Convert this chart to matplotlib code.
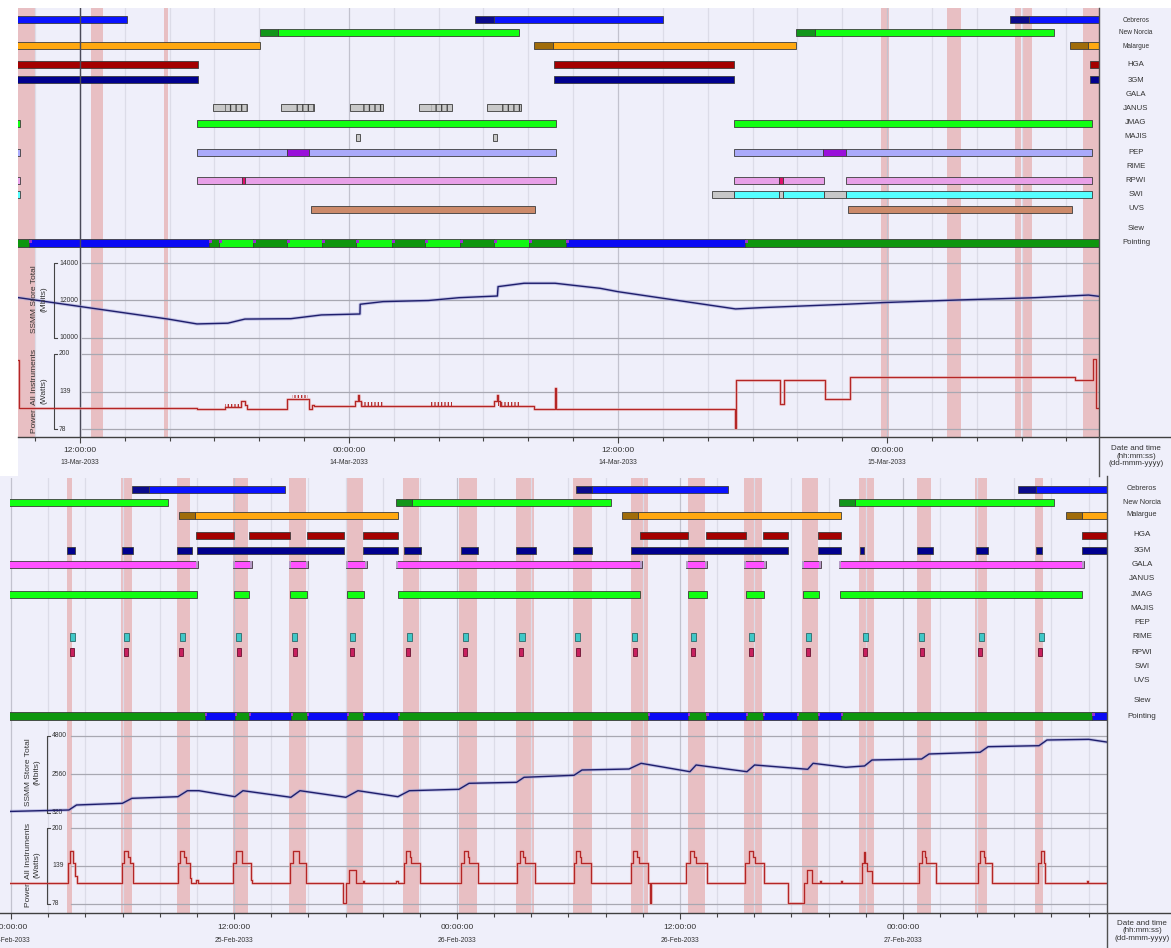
import matplotlib
matplotlib.use("Agg")
import matplotlib.pyplot as plt
from matplotlib.patches import Rectangle
from matplotlib.lines import Line2D

# ============================ DATA ============================
row_labels = ["Cebreros", "New Norcia", "Malargue", "HGA", "3GM", "GALA", "JANUS",
              "JMAG", "MAJIS", "PEP", "RIME", "RPWI", "SWI", "UVS", "Slew", "Pointing"]
station_rows = ["Cebreros", "New Norcia", "Malargue"]

# ---- top panel: hours relative to 14-Mar-2033 00:00:00 ----
top_major_hours = [-12, 0, 12, 24]
top_major_times = ["12:00:00", "00:00:00", "12:00:00", "00:00:00"]
top_major_dates = ["13-Mar-2033", "14-Mar-2033", "14-Mar-2033", "15-Mar-2033"]
top_bands = [(-15.0, -14.0), (-11.51, -10.97), (-8.25, -8.07), (23.73, 24.09),
             (26.67, 27.30), (29.71, 29.98), (30.06, 30.46), (32.74, 33.6)]
top_cursor = -12.0
top_segments = {
    "Cebreros": [(-15.0, -9.90, "blue"), (5.62, 6.47, "dblue"), (6.47, 14.0, "blue"),
                 (29.48, 30.33, "dblue"), (30.33, 34.0, "blue")],
    "New Norcia": [(-3.97, -3.17, "dgreen"), (-3.17, 7.58, "lime"),
                   (19.94, 20.78, "dgreen"), (20.78, 31.44, "lime")],
    "Malargue": [(-15.0, -3.97, "orange"), (8.25, 9.10, "brown"), (9.10, 19.94, "orange"),
                 (32.16, 32.96, "brown"), (32.96, 34.0, "orange")],
    "HGA": [(-15.0, -6.73, "dred"), (9.14, 17.17, "dred"), (33.05, 34.0, "dred")],
    "3GM": [(-15.0, -6.73, "navy"), (9.14, 17.17, "navy"), (33.05, 34.0, "navy")],
    "JMAG": [(-15.0, -14.67, "lime"), (-6.78, 9.23, "lime"), (17.17, 33.14, "lime")],
    "MAJIS": [(0.31, 0.49, "lgray"), (6.42, 6.60, "lgray")],
    "PEP": [(-15.0, -14.67, "peri"), (-6.78, -2.77, "peri"), (-2.77, -1.78, "purple"),
            (-1.78, 9.23, "peri"), (17.17, 21.14, "peri"), (21.14, 22.17, "purple"),
            (22.17, 33.14, "peri")],
    "RPWI": [(-15.0, -14.67, "plum"), (-6.78, -4.77, "plum"), (-4.77, -4.64, "crim"),
             (-4.64, 9.23, "plum"), (17.17, 19.18, "plum"), (19.18, 19.36, "crim"),
             (19.36, 21.19, "plum"), (22.17, 33.14, "plum")],
    "SWI": [(-15.0, -14.67, "cyan"), (16.19, 17.17, "lgray"), (17.17, 19.18, "cyan"),
            (19.18, 19.36, "lgray"), (19.36, 21.19, "cyan"), (21.19, 22.17, "lgray"),
            (22.17, 33.14, "cyan")],
    "UVS": [(-1.69, 8.30, "salmon"), (22.26, 32.25, "salmon")],
    "Pointing": [(-15.0, -14.27, "pdg"), (-14.27, -6.24, "pblue"), (-6.24, -5.80, "pdg"),
                 (-5.80, -4.28, "plime"), (-4.28, -2.77, "pdg"), (-2.77, -1.20, "plime"),
                 (-1.20, 0.31, "pdg"), (0.31, 1.92, "plime"), (1.92, 3.39, "pdg"),
                 (3.39, 4.95, "plime"), (4.95, 6.47, "pdg"), (6.47, 8.03, "plime"),
                 (8.03, 9.68, "pdg"), (9.68, 17.66, "pblue"), (17.66, 34.0, "pdg")],
}
top_janus = [(-6.07, -4.55), (-3.03, -1.56), (0.04, 1.52), (3.12, 4.59), (6.16, 7.67)]

top_ssmm_t = [-14.9, -11.93, -8.07, -6.78, -5.40, -4.64, -2.59, -1.23, 0.49, 0.50, 1.52,
              3.55, 4.91, 6.62, 6.65, 7.81, 9.19, 11.2, 12.0, 17.24, 18.42, 22.17, 23.85,
              27.23, 30.6, 32.98, 33.6]
top_ssmm_v = [12180, 11670, 11010, 10750, 10790, 11010, 11030, 11230, 11280, 11800, 11940,
              12000, 12150, 12240, 12740, 12920, 12920, 12650, 12470, 11550, 11620, 11800,
              11890, 12030, 12150, 12290, 12200]

top_power_t = [-15.0, -14.70, -6.78, -5.53, -4.82, -4.64, -4.55, -2.77, -1.78, -1.65,
               -1.56, 0.27, 0.40, 0.45, 0.54, 6.47, 6.60, 6.65, 6.73, 8.25, 9.19, 9.23,
               17.22, 17.26, 19.22, 19.40, 21.23, 22.35, 32.38, 33.18, 33.32, 34.0]
top_power_w = [190, 112, 110, 113, 124, 117, 110, 127, 110, 117,
               115, 124, 133, 124, 116, 124, 133, 124, 116, 110, 145, 110,
               80, 158, 119, 158, 127, 163, 158, 192, 112, 112]
top_power_combs = [(-5.53, -4.82, 113, 119), (-2.54, -1.83, 128, 133), (0.58, 1.52, 116, 122),
                   (3.61, 4.59, 116, 122), (6.65, 7.67, 116, 122)]

# ---- bottom panel: hours relative to 26-Feb-2033 00:00:00 ----
bot_major_hours = [-24, -12, 0, 12, 24]
bot_major_times = ["00:00:00", "12:00:00", "00:00:00", "12:00:00", "00:00:00"]
bot_major_dates = ["25-Feb-2033", "25-Feb-2033", "26-Feb-2033", "26-Feb-2033", "27-Feb-2033"]
bot_bands = [(-21.0, -20.73), (-18.09, -17.50), (-15.07, -14.37), (-12.06, -11.25),
             (-9.04, -8.13), (-5.98, -5.06), (-2.91, -2.05), (0.11, 1.08), (3.18, 4.15),
             (6.24, 7.27), (9.37, 10.28), (12.44, 13.35), (15.45, 16.42), (18.57, 19.43),
             (21.64, 22.45), (24.76, 25.52), (27.89, 28.53), (31.10, 31.55)]
bot_segments = {
    "Cebreros": [(-17.50, -16.58, "dblue"), (-16.58, -9.26, "blue"), (6.41, 7.27, "dblue"),
                 (7.27, 14.59, "blue"), (30.20, 31.17, "dblue"), (31.17, 36.0, "blue")],
    "New Norcia": [(-25.0, -15.56, "lime"), (-3.28, -2.42, "dgreen"), (-2.42, 8.29, "lime"),
                   (20.57, 21.43, "dgreen"), (21.43, 32.14, "lime")],
    "Malargue": [(-14.97, -14.10, "brown"), (-14.10, -3.18, "orange"), (8.88, 9.74, "brown"),
                 (9.74, 20.67, "orange"), (32.79, 33.65, "brown"), (33.65, 36.0, "orange")],
    "HGA": [(-14.05, -12.01, "dred"), (-11.20, -8.99, "dred"), (-8.08, -6.08, "dred"),
            (-5.06, -3.18, "dred"), (9.85, 12.44, "dred"), (13.41, 15.56, "dred"),
            (16.47, 17.82, "dred"), (19.43, 20.67, "dred"), (33.65, 36.0, "dred")],
    "3GM": [(-21.0, -20.57, "navy"), (-18.03, -17.44, "navy"), (-15.07, -14.27, "navy"),
            (-14.0, -6.08, "navy"), (-5.06, -3.18, "navy"), (-2.85, -1.94, "navy"),
            (0.22, 1.13, "navy"), (3.18, 4.25, "navy"), (6.24, 7.27, "navy"),
            (9.37, 17.82, "navy"), (19.43, 20.67, "navy"), (21.70, 21.91, "navy"),
            (24.76, 25.63, "navy"), (27.94, 28.59, "navy"), (31.17, 31.49, "navy"),
            (33.65, 36.0, "navy")],
    "GALA": [(-25.0, -13.94, "magenta"), (-12.06, -11.04, "magenta"), (-9.04, -8.02, "magenta"),
             (-5.98, -4.85, "magenta"), (-3.28, 9.96, "magenta"), (12.33, 13.46, "magenta"),
             (15.45, 16.64, "magenta"), (18.57, 19.60, "magenta"), (20.57, 33.76, "magenta")],
    "JMAG": [(-25.0, -14.0, "lime"), (-12.0, -11.20, "lime"), (-8.99, -8.08, "lime"),
             (-5.92, -5.01, "lime"), (-3.18, 9.85, "lime"), (12.44, 13.46, "lime"),
             (15.56, 16.53, "lime"), (18.63, 19.49, "lime"), (20.62, 33.65, "lime")],
    "Pointing": [(-25.0, -13.57, "pdg"), (-13.57, -11.95, "pblue"), (-11.95, -11.20, "pdg"),
                 (-11.20, -8.94, "pblue"), (-8.94, -8.08, "pdg"), (-8.08, -5.92, "pblue"),
                 (-5.92, -5.06, "pdg"), (-5.06, -3.18, "pblue"), (-3.18, 10.28, "pdg"),
                 (10.28, 12.44, "pblue"), (12.44, 13.41, "pdg"), (13.41, 15.56, "pblue"),
                 (15.56, 16.47, "pdg"), (16.47, 18.30, "pblue"), (18.30, 19.43, "pdg"),
                 (19.43, 20.67, "pblue"), (20.67, 34.19, "pdg"), (34.19, 36.0, "pblue")],
}
bot_rime = [-20.67, -17.77, -14.80, -11.74, -8.72, -5.65, -2.58, 0.48, 3.50, 6.51, 9.58,
            12.71, 15.83, 18.90, 21.97, 25.03, 28.21, 31.44]
bot_rpwi = [-20.73, -17.82, -14.86, -11.74, -8.72, -5.65, -2.64, 0.43, 3.45, 6.51, 9.58,
            12.71, 15.83, 18.90, 21.97, 25.03, 28.16, 31.39]

bot_ssmm_t = [-25.0, -20.89, -20.48, -18.01, -17.50, -15.02, -14.51, -13.89, -11.95, -11.52,
              -8.94, -8.45, -5.98, -5.33, -3.18, -2.56, 0.11, 0.65, 3.21, 3.61, 6.30, 6.73,
              9.26, 9.91, 12.54, 12.87, 15.61, 16.02, 18.88, 19.17, 20.93, 21.94, 22.34,
              25.01, 25.41, 28.16, 28.59, 31.33, 31.76, 34.0, 35.2]
bot_ssmm_v = [370, 478, 770, 869, 1160, 1255, 1605, 1605, 1255, 1605,
              1220, 1605, 1220, 1605, 1255, 1605, 1687, 2037, 2095, 2388, 2505, 2814,
              2872, 3205, 2715, 3107, 2715, 3107, 2855, 3205, 2972, 3050, 3398,
              3456, 3749, 3848, 4175, 4234, 4566, 4605, 4410]

bot_power_t = [-25.0,
               -20.94, -20.83, -20.65, -20.57, -20.48,
               -18.05, -17.93, -17.71, -17.60, -17.44,
               -15.02, -14.91, -14.70, -14.61, -14.37, -14.31, -14.05, -13.94,
               -12.03, -11.87, -11.57, -11.11, -11.06,
               -8.99, -8.83, -8.53, -8.13,
               -6.14, -5.96, -5.81, -5.44, -5.06, -4.98,
               -3.28, -3.18, -2.87, -2.72, -2.53, -2.45, -1.99,
               0.22, 0.38, 0.57, 0.65, 1.11,
               3.25, 3.38, 3.58, 3.66, 4.20,
               6.30, 6.41, 6.62, 6.70, 7.24,
               9.37, 9.48, 9.69, 9.80, 10.28, 10.39, 10.44,
               12.33, 12.54, 12.76, 12.87, 13.46,
               15.50, 15.72, 15.93, 16.04, 16.53,
               17.82, 18.68, 18.84, 19.11, 19.54, 19.60, 20.67, 20.73,
               21.78, 21.91, 21.99, 22.07, 22.34,
               24.87, 25.01, 25.20, 25.25, 25.77,
               28.05, 28.16, 28.37, 28.43, 28.79,
               31.30, 31.44, 31.59, 31.66,
               33.89, 33.97, 36.0]
bot_power_w = [111,
               143, 163, 143, 122, 111,
               143, 163, 153, 143, 111,
               143, 163, 153, 143, 120, 111, 116, 111,
               143, 163, 143, 116, 111,
               143, 163, 143, 111,
               79, 111, 132, 111, 115, 111,
               115, 111, 143, 163, 153, 143, 111,
               143, 163, 153, 143, 111,
               143, 163, 153, 143, 111,
               143, 163, 153, 143, 111,
               143, 163, 153, 143, 111, 79, 111,
               143, 163, 153, 143, 111,
               143, 163, 153, 143, 111,
               79, 111, 132, 111, 115, 111, 115, 111,
               143, 162, 143, 130, 111,
               143, 163, 153, 143, 111,
               143, 163, 153, 143, 111,
               143, 163, 143, 111,
               115, 111, 111]

# ============================ STYLE ============================
W, H = 1171, 948
BG = "#EFEFFA"
BAND = "#E8BFC3"
TXT = "#333333"
EDGE = "#3c3c3c"
plt.rcParams["font.family"] = ["Liberation Sans", "DejaVu Sans"]
plt.rcParams["hatch.linewidth"] = 0.9
PAL = {"blue": "#0A12FF", "dblue": "#0A0A8C", "lime": "#12FF12", "dgreen": "#12961A",
       "orange": "#FFA810", "brown": "#A06C0A", "dred": "#A40000", "navy": "#00008E",
       "lgray": "#C8C8C8", "peri": "#AAAAFA", "purple": "#9A10DA", "plum": "#E8A0E8",
       "crim": "#E0106A", "cyan": "#55FFFF", "salmon": "#CC8A6A", "magenta": "#FF50FF",
       "pdg": "#0E960E", "pblue": "#0A0AF4", "plime": "#12F812"}
GALA_CAP = "#B89AC8"

fig = plt.figure(figsize=(W / 100, H / 100), dpi=100)
fig.patch.set_facecolor("white")


def px_axes(x0, y0, x1, y1):
    return fig.add_axes([x0 / W, 1 - y1 / H, (x1 - x0) / W, (y1 - y0) / H])


def fig_line(xs, ys, **kw):
    fig.add_artist(Line2D([x / W for x in xs], [1 - y / H for y in ys],
                         transform=fig.transFigure, **kw))


def fig_text(x, y, s, **kw):
    fig.text(x / W, 1 - y / H, s, **kw)


def draw_panel(P):
    x0, x1 = P["x0"], P["x1"]
    fig.add_artist(Rectangle((P["bg"][0] / W, 1 - P["bg"][3] / H),
                             (P["bg"][2] - P["bg"][0]) / W, (P["bg"][3] - P["bg"][1]) / H,
                             transform=fig.transFigure, facecolor=BG, edgecolor="none",
                             zorder=-10))
    gax = px_axes(x0, P["yt"], x1, P["yg"])
    sax = px_axes(x0, P["yg"], x1, P["ys"])
    pax = px_axes(x0, P["ys"], x1, P["ya"])
    lo, hi = P["xlim"]
    majors = P["majors"]
    minors = [h for h in range(int(lo) - 2, int(hi) + 2) if h % 2 == 0 and lo < h < hi]
    for ax in (gax, sax, pax):
        ax.set_xlim(lo, hi)
        ax.set_facecolor("none")
        for sp in ax.spines.values():
            sp.set_visible(False)
        ax.tick_params(left=False, labelleft=False, bottom=False, labelbottom=False)
        for a, b in P["bands"]:
            ax.axvspan(a, b, facecolor=BAND, edgecolor="none", zorder=0.5)
        for h in minors:
            col = "#C2C2CE" if h in majors else "#DCDCE8"
            ax.axvline(h, color=col, lw=0.9, zorder=0.8)
        if P.get("cursor") is not None:
            ax.axvline(P["cursor"], color="#4a4a58", lw=1.0, zorder=2.5)

    # ---------------- Gantt ----------------
    gax.set_ylim(P["yg"], P["yt"])
    rowy = dict(zip(row_labels, P["rows"]))
    bh = P["bh"]
    for name, segs in P["segments"].items():
        y = rowy[name]
        h = bh + 1 if name == "Pointing" else bh
        for a, b, c in segs:
            gax.barh(y, b - a, left=a, height=h, color=PAL[c], edgecolor=EDGE,
                     linewidth=0.6, zorder=2)
            if name == "GALA":
                cap = 0.1
                gax.barh(y, cap, left=a, height=h, color=GALA_CAP, edgecolor="none", zorder=2.1)
                gax.barh(y, cap, left=b - cap, height=h, color=GALA_CAP, edgecolor="none", zorder=2.1)
        if name == "Pointing":
            for a, b, c in segs[1:]:
                if a > lo:
                    gax.add_patch(Rectangle((a, y - h / 2 + 0.5), 0.13, 3.5,
                                            facecolor="#9A30D0", edgecolor="none", zorder=2.2))
    for a, b in P.get("janus", []):
        y = rowy["JANUS"]
        gax.barh(y, b - a, left=a, height=bh, color=PAL["lgray"], edgecolor=EDGE,
                 linewidth=0.6, zorder=2)
        s = a + 0.36 * (b - a)
        gax.add_patch(Rectangle((s, y - bh / 2), b - s, bh, fill=False, hatch="|||",
                                edgecolor="#404040", linewidth=0, zorder=2.1))
    for c in P.get("rime", []):
        gax.barh(rowy["RIME"], 0.27, left=c - 0.135, height=bh + 1, color="#40C8C8",
                 edgecolor="#2a6a6a", linewidth=0.6, zorder=2)
    for c in P.get("rpwi", []):
        gax.barh(rowy["RPWI"], 0.22, left=c - 0.11, height=bh + 1, color="#C8205E",
                 edgecolor="#6a1030", linewidth=0.6, zorder=2)

    # ---------------- SSMM ----------------
    sax.set_ylim(*P["s_ylim"])
    gfrac = (P["grid_px"] - x0) / (x1 - x0)
    bfrac = (P["br_px"] - x0) / (x1 - x0)
    lfrac = (P["lab_px"] - x0) / (x1 - x0)
    tick_d = 3.0 / (x1 - x0)

    def yaxis(ax, ticks, labels):
        for v in ticks:
            ax.axhline(v, xmin=gfrac, xmax=1, color="#A8A8B2", lw=0.9, zorder=0.9)
        tr = ax.get_yaxis_transform()
        ax.plot([bfrac + tick_d, bfrac, bfrac, bfrac + tick_d],
                [ticks[0], ticks[0], ticks[-1], ticks[-1]], transform=tr,
                color="#444444", lw=0.8, clip_on=False, zorder=3)
        for v, s in zip(ticks, labels):
            ax.text(lfrac, v, s, transform=tr, ha="left", va="center", fontsize=4.9,
                    color=TXT, zorder=3)

    yaxis(sax, P["s_ticks"], [str(v) for v in P["s_ticks"]])
    sax.plot(P["ssmm_t"], P["ssmm_v"], color="#A0A0D6", lw=2.4, alpha=0.55, zorder=2.8)
    sax.plot(P["ssmm_t"], P["ssmm_v"], color="#1E1E6C", lw=1.0, zorder=3)

    # ---------------- Power ----------------
    pax.set_ylim(*P["p_ylim"])
    yaxis(pax, [200, 139, 78], ["200", "139", "78"])
    pax.step(P["power_t"], P["power_w"], where="post", color="#EAA8A8", lw=2.2,
             alpha=0.55, zorder=2.8)
    pax.step(P["power_t"], P["power_w"], where="post", color="#B42626", lw=0.9, zorder=3)
    for a, b, l, u in P.get("combs", []):
        pax.add_patch(Rectangle((a, l), b - a, u - l, fill=False, hatch="|||||",
                                edgecolor="#B42626", linewidth=0, zorder=3))

    # x ticks
    pax.set_xticks(majors)
    pax.set_xticks(minors, minor=True)
    pax.tick_params(axis="x", which="major", bottom=True, direction="out", length=4.2,
                    width=0.8, color="#444444", labelbottom=False)
    pax.tick_params(axis="x", which="minor", bottom=True, direction="out", length=2.6,
                    width=0.8, color="#444444")
    for h, t, d in zip(majors, P["times"], P["dates"]):
        pax.annotate(t, xy=(h, 0), xycoords=("data", "axes fraction"),
                     xytext=(0, -P["t_off"]), textcoords="offset pixels",
                     ha="center", va="center", fontsize=6, color=TXT)
        pax.annotate(d, xy=(h, 0), xycoords=("data", "axes fraction"),
                     xytext=(0, -P["d_off"]), textcoords="offset pixels",
                     ha="center", va="center", fontsize=4.9, color=TXT)

    # axis lines / divider
    fig_line([P["axis_x0"], W], [P["ya"], P["ya"]], color="#404040", lw=1.0)
    fig_line([x1, x1], [P["bg"][1], P["bg"][3]], color="#505050", lw=1.0)

    # left axis titles
    fig_text(P["ylab_x"], P["ylab_s"], "SSMM Store Total\n(Mbits)", rotation=90,
             ha="center", va="center", fontsize=6, color=TXT, linespacing=P["ylab_ls"])
    fig_text(P["ylab_x"], P["ylab_p"], "Power  All Instruments\n(Watts)", rotation=90,
             ha="center", va="center", fontsize=6, color=TXT, linespacing=P["ylab_ls"])

    # right labels
    for name, y in zip(row_labels, P["rows"]):
        fs = P["st_fs"] if name in station_rows else P["in_fs"]
        fig_text(P["rc_x"], y, name, ha="center", va="center", fontsize=fs, color=TXT)
    fig_text(P["rc_x"], P["dt_y"], "Date and time\n(hh:mm:ss)\n(dd-mmm-yyyy)",
             ha="center", va="center", fontsize=5.8, color=TXT, linespacing=1.05)


top = dict(x0=18, x1=1099, yt=8, yg=252, ys=346, ya=437, bg=(18, 8, W, 476),
           xlim=(-14.76, 33.45), majors=top_major_hours, times=top_major_times,
           dates=top_major_dates, bands=top_bands, cursor=top_cursor,
           rows=[20, 33, 46, 65, 80, 94, 108, 123, 137, 152, 166, 180, 194, 209, 229, 243],
           bh=7, segments=top_segments, janus=top_janus,
           s_ylim=(9573, 14587), s_ticks=[14000, 12000, 10000], p_ylim=(65, 213),
           ssmm_t=top_ssmm_t, ssmm_v=top_ssmm_v, power_t=top_power_t, power_w=top_power_w,
           combs=top_power_combs, grid_px=82, br_px=54, lab_px=59,
           t_off=14, d_off=26, axis_x0=18, ylab_x=39.5, ylab_s=299, ylab_p=391,
           ylab_ls=1.55, rc_x=1136, st_fs=4.7, in_fs=5.6, dt_y=456)

bot = dict(x0=10, x1=1107, yt=478, yg=725, ys=820, ya=912.7, bg=(0, 476, W, H),
           xlim=(-24.06, 34.99), majors=bot_major_hours, times=bot_major_times,
           dates=bot_major_dates, bands=bot_bands, cursor=None,
           rows=[489, 502, 515, 535, 550, 564, 579, 594, 608, 623, 637, 652, 667, 681, 701, 716],
           bh=7, segments=bot_segments, rime=bot_rime, rpwi=bot_rpwi,
           s_ylim=(-106, 5442), s_ticks=[4800, 2560, 320], p_ylim=(63.5, 212.9),
           ssmm_t=bot_ssmm_t, ssmm_v=bot_ssmm_v, power_t=bot_power_t, power_w=bot_power_w,
           grid_px=71, br_px=47, lab_px=52,
           t_off=14.3, d_off=27.3, axis_x0=0, ylab_x=32.5, ylab_s=772, ylab_p=865,
           ylab_ls=1.35, rc_x=1142, st_fs=5.3, in_fs=5.8, dt_y=931)

draw_panel(top)
draw_panel(bot)

fig.savefig("out.png", dpi=100, facecolor="white")
